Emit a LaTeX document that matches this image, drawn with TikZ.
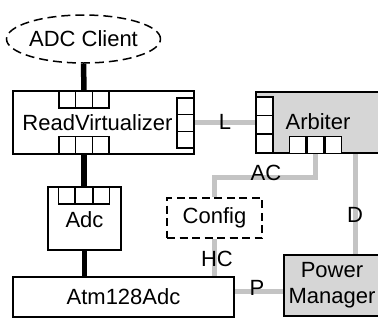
\documentclass[tikz,border=0pt]{standalone}
\usepackage{fontspec}
\setmainfont{Liberation Sans}
\usetikzlibrary{calc,shapes.geometric,backgrounds}
\definecolor{conn}{HTML}{C4C4C4}
\definecolor{boxfill}{HTML}{D6D6D6}
\begin{document}
\begin{tikzpicture}[x=1pt,y=-1pt,
  every node/.style={font=\fontsize{22}{26}\selectfont, inner sep=0pt},
  port/.style={draw, line width=1.5pt, fill=white, minimum width=16.7pt, minimum height=17pt},
  vport/.style={draw, line width=1.5pt, fill=white, minimum width=17pt, minimum height=18.5pt},
  wire/.style={line width=5.5pt},
  gwire/.style={line width=5pt, draw=conn},
  dsh/.style={dash pattern=on 9pt off 5pt}]
\useasboundingbox (0,0) rectangle (378,322);
\clip (0,0) rectangle (378,322);

% boxes
\node[draw, dsh, line width=1.5pt, ellipse, minimum width=154pt, minimum height=48pt] (client) at (83.5,39) {};
\node (clientt) at (83.5,39) {ADC Client};

\node[draw, line width=1.5pt, minimum width=181pt, minimum height=63pt] (rv) at (103.5,122.5) {};
\node (rvt) at (97.5,123) {ReadVirtualizer};

\node[draw, line width=1.5pt, fill=boxfill, minimum width=144pt, minimum height=61pt] (arb) at (328,122.5) {};
\node (arbt) at (318,122) {Arbiter};

\node[draw, line width=1.5pt, minimum width=73pt, minimum height=63pt] (adc) at (84.5,218.5) {};
\node (adct) at (84.5,220) {Adc};

\node[draw, dash pattern=on 8pt off 4.5pt, line width=1.5pt, minimum width=95pt, minimum height=40pt] (cfg) at (214.5,218) {Config};

\node[draw, line width=1.5pt, minimum width=221pt, minimum height=40pt] (atm) at (123.5,297) {Atm128Adc};

\node[draw, line width=1.5pt, fill=boxfill, minimum width=116pt, minimum height=61pt] (pm) at (342,285.5) {};
\node[align=center] (pmt) at (332,285.5) {Power\\Manager};

% ports
\node[port] (rvT1) at (67.3,99.5) {};
\node[port] (rvT2) at (84,99.5) {};
\node[port] (rvT3) at (100.7,99.5) {};
\node[port] (rvB1) at (67.3,145) {};
\node[port] (rvB2) at (84,145) {};
\node[port] (rvB3) at (100.7,145) {};
\node[vport, minimum height=16.7pt] (rvR1) at (185.5,106.3) {};
\node[vport, minimum height=16.7pt] (rvR2) at (185.5,123) {};
\node[vport, minimum height=16.7pt] (rvR3) at (185.5,139.7) {};

\node[vport] (arbL1) at (264.5,106.2) {};
\node[vport] (arbL2) at (264.5,124.7) {};
\node[vport] (arbL3) at (264.5,143.2) {};
\node[port] (arbB1) at (297.8,145) {};
\node[port] (arbB2) at (315.5,145) {};
\node[port] (arbB3) at (333.2,145) {};

\node[port] (adcT1) at (66.7,195.5) {};
\node[port] (adcT2) at (84,195.5) {};
\node[port] (adcT3) at (101.3,195.5) {};

% black connectors
\draw[wire] (client.south) -- (rvT2.north);
\draw[wire] (rvB2.south) -- (adcT2.north);
\draw[wire] (adc.south) -- (adc.south |- atm.north);

% gray connectors
\coordinate (dref) at (355,0);
\coordinate (pref) at (0,291);
\coordinate (lref) at (0,122);
\coordinate (acref) at (0,177);
\begin{pgfonlayer}{background}
\draw[gwire] (rvR2.east |- lref) -- (arbL2.west |- lref);
\draw[gwire] (arbB2.south) -- (arbB2.south |- acref) -| (cfg.north);
\draw[gwire] (arb.south -| dref) -- (pm.north -| dref);
\draw[gwire] (cfg.south) -- (cfg.south |- atm.north);
\draw[gwire] (atm.east |- pref) -- (pm.west |- pref);
\end{pgfonlayer}

% labels
\node (lL) at (225,122) {L};
\node (lAC) at (266,173) {AC};
\node (lD) at (355,215) {D};
\node (lHC) at (217,259) {HC};
\node (lP) at (257,288) {P};
\end{tikzpicture}
\end{document}
